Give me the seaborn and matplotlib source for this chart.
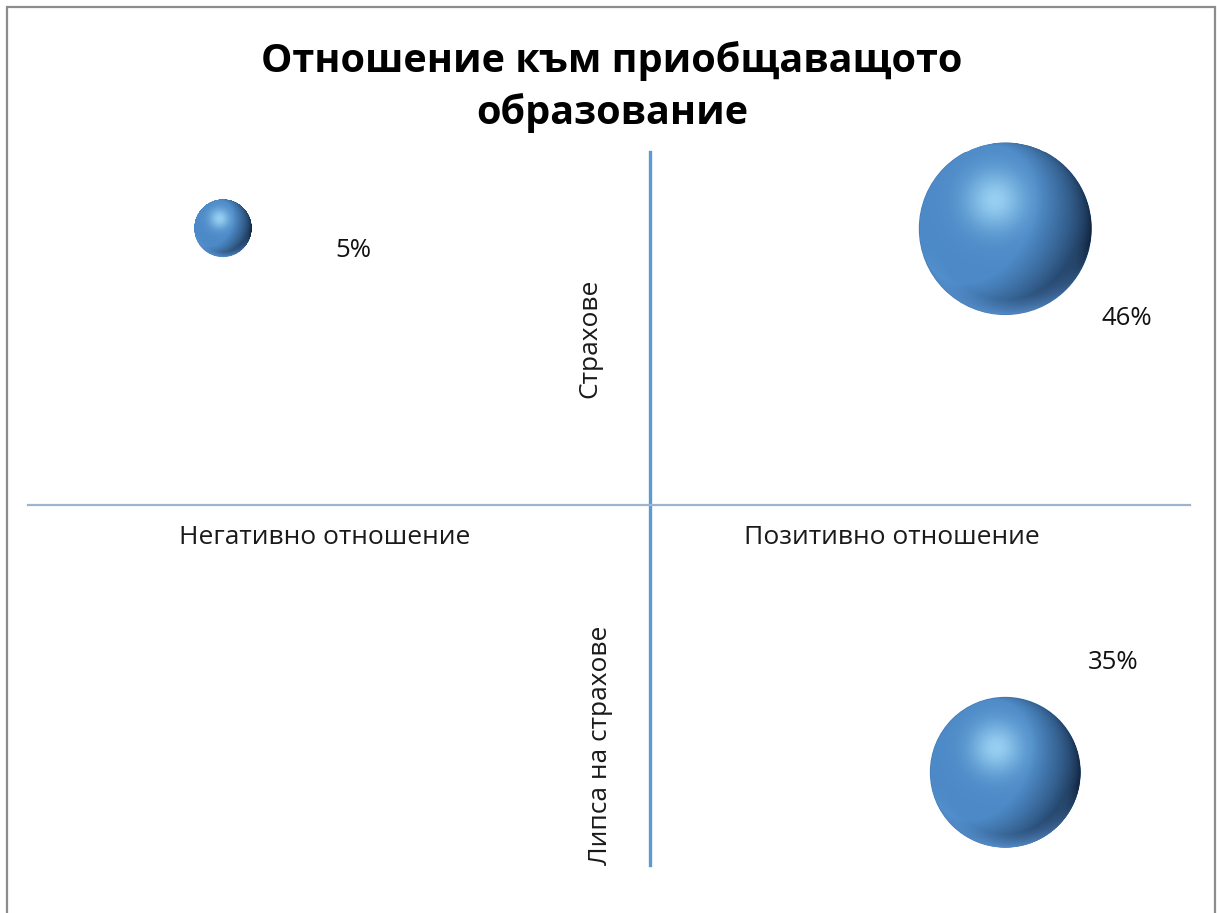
import numpy as np
import pandas as pd
import matplotlib
matplotlib.use("Agg")
import matplotlib.pyplot as plt
import seaborn as sns
from matplotlib.offsetbox import OffsetImage, AnnotationBbox
from matplotlib.patches import Rectangle

# data
categories = ["Негативно отношение / Страхове",
              "Позитивно отношение / Страхове",
              "Позитивно отношение / Липса на страхове"]
attitude = [-3.0, 2.5, 2.5]      # x: negative / positive attitude
fears = [3.1, 3.1, -3.0]         # y: fears / no fears
share = [5, 46, 35]              # bubble size, %
value_labels = ["5%", "46%", "35%"]

title = "Отношение към приобщаващото\nобразование"
x_labels = ["Негативно отношение", "Позитивно отношение"]
y_labels = ["Страхове", "Липса на страхове"]

df = pd.DataFrame({"cat": categories, "x": attitude, "y": fears, "share": share})

sns.set_theme(style="white")
plt.rcParams["font.family"] = ["Open Sans", "DejaVu Sans"]

DPI = 100
fig = plt.figure(figsize=(12.17, 9.13), dpi=DPI)
ax = fig.add_axes([0.023, 0.0526, 0.955, 0.781])

# bubble radius in pixels ~ sqrt(share)
K = 12.75
max_s = (2 * K * np.sqrt(max(share)) * 72 / DPI) ** 2

sns.scatterplot(data=df, x="x", y="y", size="share", sizes=(0, max_s),
                size_norm=(0, max(share)), color="#3f78b3", linewidth=0,
                legend=False, ax=ax, zorder=2)


def sphere_rgba(n=400):
    u = np.linspace(-1, 1, n)
    X, Y = np.meshgrid(u, -u)
    R = np.sqrt(X ** 2 + Y ** 2)
    Z = np.sqrt(np.clip(1 - R ** 2, 0, 1))
    L = np.array([-0.6, 0.3, 0.75])
    L = L / np.linalg.norm(L)
    d = X * L[0] + Y * L[1] + Z * L[2]
    f = np.clip((d + 0.45) / 1.0, 0, 1)
    dark = np.array([0.08, 0.16, 0.27])
    mid = np.array([0.30, 0.54, 0.78])
    light = np.array([0.68, 0.90, 1.0])
    col = dark + (mid - dark) * f[..., None]
    # soft highlight
    spec = np.exp(-((X + 0.12) ** 2 + (Y - 0.33) ** 2) / 0.12)
    col = col * (1 - 0.75 * spec[..., None]) + light * 0.75 * spec[..., None]
    # light reflection on the bottom rim
    refl = np.clip((R - 0.82) / 0.18, 0, 1) * np.clip(-Y / R.clip(1e-6) - 0.2, 0, 1)
    rc = np.array([0.38, 0.62, 0.88])
    col = col * (1 - refl[..., None]) + rc * refl[..., None]
    alpha = np.clip((1 - R) * n / 2.5, 0, 1)
    return np.dstack([np.clip(col, 0, 1), alpha])


img = sphere_rgba()
for xv, yv, sv in zip(attitude, fears, share):
    r_px = K * np.sqrt(sv)
    zoom = 2 * r_px / (img.shape[0] * DPI / 72)
    ab = AnnotationBbox(OffsetImage(img, zoom=zoom), (xv, yv), frameon=False,
                        pad=0, zorder=3)
    ax.add_artist(ab)

# data labels (offsets in pixels from bubble centre)
label_offsets = [(130, -22), (122, -90), (108, 110)]
for xv, yv, lab, (dx, dy) in zip(attitude, fears, value_labels, label_offsets):
    ax.annotate(lab, (xv, yv), xytext=(dx * 72 / DPI, dy * 72 / DPI),
                textcoords="offset points", ha="center", va="center",
                fontsize=18.5, color="#111111")

ax.set_xlim(-4.37, 3.8)
ax.set_ylim(-4.04, 3.96)
ax.set_xticks([])
ax.set_yticks([])
ax.set_xlabel("")
ax.set_ylabel("")
for s in ["top", "right"]:
    ax.spines[s].set_visible(False)
ax.spines["left"].set_position(("data", 0))
ax.spines["bottom"].set_position(("data", 0))
ax.spines["left"].set_color("#5b9bd5")
ax.spines["left"].set_linewidth(2.4)
ax.spines["bottom"].set_color("#9db4cf")
ax.spines["bottom"].set_linewidth(1.6)

lab_kw = dict(transform=ax.transAxes, ha="center", va="center",
              fontsize=19, color="#1a1a1a")
ax.text(0.2556, 0.4586, x_labels[0], **lab_kw)
ax.text(0.7435, 0.4586, x_labels[1], **lab_kw)
ax.text(0.4836, 0.739, y_labels[0], rotation=90, **lab_kw)
ax.text(0.4923, 0.168, y_labels[1], rotation=90, **lab_kw)

fig.text(0.503, 0.905, title, ha="center", va="center", fontsize=28.5,
         fontweight="bold", color="black", linespacing=1.4)

# outer chart frame
fig.patches.append(Rectangle((7 / 1217, -0.05), 1208 / 1217, 1 - 7 / 913 + 0.05,
                             transform=fig.transFigure, fill=False,
                             edgecolor="#8c8c8c", linewidth=1.6))

fig.savefig("out.png", dpi=DPI)
